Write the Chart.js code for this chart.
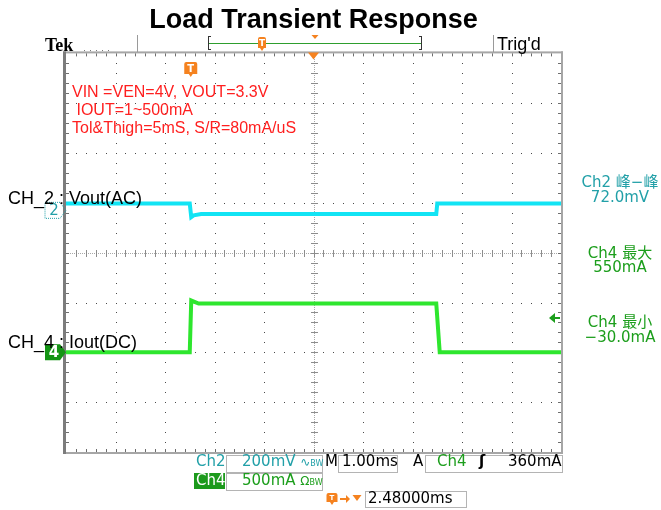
<!DOCTYPE html>
<html>
<head>
<meta charset="utf-8">
<script src="https://cdn.jsdelivr.net/npm/chart.js@4.4.0/dist/chart.umd.min.js"></script>
<style>
    body { margin: 0; background: #fff; }
    #scope { position: relative; width: 661px; height: 510px; overflow: hidden; }
    #scope canvas { position: absolute; left: 0; top: 0; }
    .lbl { position: absolute; white-space: pre; line-height: 1; }
    .sans { font-family: 'Liberation Sans', Arial, sans-serif; }
    .tek { font-family: 'DejaVu Sans', 'Noto Sans CJK SC', sans-serif; font-size: 15px; }
    .red { color: #ff1f1f; font-size: 16px; }
    .teal { color: #22a0a8; }
    .green { color: #1c9e1c; }
    .side { width: 90px; text-align: center; left: 575px; }
    .box { position: absolute; box-sizing: border-box; border: 1px solid #b4b4b4; }
    .bw { font-size: 8px; }
</style>
</head>
<body>
<div id="scope">
    <canvas id="scope-chart" width="661" height="510"></canvas>

    <div class="lbl" style="left:45px; top:35px; font: bold 18px 'Liberation Serif', serif;">Tek</div>
    <div class="lbl sans" style="left:497px; top:35px; font-size:18px;">Trig'd</div>

    <div class="lbl sans red" style="left:72px; top:84px;">VIN =VEN=4V, VOUT=3.3V</div>
    <div class="lbl sans red" style="left:72px; top:102px;"> IOUT=1~500mA</div>
    <div class="lbl sans red" style="left:72px; top:120px;">Tol&amp;Thigh=5mS, S/R=80mA/uS</div>

    <div class="lbl sans" style="left:8px; top:189px; font-size:18px;">CH_2 : Vout(AC)</div>
    <div class="lbl sans" style="left:8px; top:333px; font-size:18px;">CH_4 : Iout(DC)</div>

    <div class="lbl tek teal side" style="top:175px;">Ch2 峰−峰</div>
    <div class="lbl tek teal side" style="top:190px;">72.0mV</div>
    <div class="lbl tek green side" style="top:246px;">Ch4 最大</div>
    <div class="lbl tek green side" style="top:260px;">550mA</div>
    <div class="lbl tek green side" style="top:315px;">Ch4 最小</div>
    <div class="lbl tek green side" style="top:330px;">−30.0mA</div>

    <div class="box" style="left:226px; top:455px; width:97px; height:18px;"></div>
    <div class="box" style="left:338px; top:455px; width:60px; height:18px;"></div>
    <div class="box" style="left:425px; top:455px; width:138px; height:18px;"></div>
    <div class="box" style="left:226px; top:473px; width:97px; height:18px;"></div>
    <div class="box" style="left:194px; top:473px; width:31px; height:16px; background:#1c9a1c; border-color:#1c9a1c;"></div>
    <div class="box" style="left:365px; top:491px; width:102px; height:17px;"></div>

    <div class="lbl tek teal" style="left:196px; top:454px;">Ch2</div>
    <div class="lbl tek teal" style="left:242px; top:454px;">200mV <span style="font-size:12px">∿</span><span class="bw">B</span><span class="bw">W</span></div>
    <div class="lbl tek" style="left:325px; top:454px;">M</div>
    <div class="lbl tek" style="left:342px; top:454px;">1.00ms</div>
    <div class="lbl tek" style="left:413px; top:454px;">A</div>
    <div class="lbl tek green" style="left:437px; top:454px;">Ch4</div>
    <div class="lbl tek" style="left:479px; top:454px; font-weight:bold;">ʃ</div>
    <div class="lbl tek" style="left:508px; top:454px;">360mA</div>

    <div class="lbl tek" style="left:196px; top:473px; color:#fff;">Ch4</div>
    <div class="lbl tek green" style="left:242px; top:473px;">500mA <span style="font-size:12px">Ω</span><span class="bw">B</span><span class="bw">W</span></div>

    <div class="lbl tek" style="left:368px; top:491px;">2.48000ms</div>
</div>

<script>
// time relative to trigger point, ms
const ch2Time = [-2.48, 0.02, 0.05, 0.1, 0.25, 5.0, 5.02, 7.52];
const ch2Millivolts = [27, 27, -27, -20, -15, -15, 27, 27];

const ch4Time = [-2.48, 0.02, 0.05, 0.2, 5.0, 5.07, 7.52];
const ch4Milliamps = [0, 0, 520, 490, 490, 0, 0];

const triggerLevelMa = 360;

// scope settings
const timePerDiv = 1.0;
const triggerDelay = 2.48;
const ch2MvPerDiv = 200;
const ch2PositionDiv = 0.85;
const ch4MaPerDiv = 500;
const ch4PositionDiv = -2.0;

const orange = '#f5821f';
const tealColor = '#22a0a8';
const greenColor = '#1c9e1c';

function toPoints(times, values) {
    return times.map((t, i) => ({ x: t, y: values[i] }));
}

function drawTIcon(ctx, cx, top, w, h) {
    const r = 2;
    const left = cx - w / 2;
    const bodyH = h - 3;
    ctx.fillStyle = orange;
    ctx.beginPath();
    ctx.moveTo(left + r, top);
    ctx.lineTo(left + w - r, top);
    ctx.quadraticCurveTo(left + w, top, left + w, top + r);
    ctx.lineTo(left + w, top + bodyH);
    ctx.lineTo(cx + 2, top + bodyH);
    ctx.lineTo(cx, top + h);
    ctx.lineTo(cx - 2, top + bodyH);
    ctx.lineTo(left, top + bodyH);
    ctx.lineTo(left, top + r);
    ctx.quadraticCurveTo(left, top, left + r, top);
    ctx.fill();
    ctx.fillStyle = '#fff';
    ctx.font = 'bold ' + (bodyH - 2) + 'px "DejaVu Sans"';
    ctx.textAlign = 'center';
    ctx.textBaseline = 'middle';
    ctx.fillText('T', cx, top + bodyH / 2 + 1);
}

function drawDownTriangle(ctx, cx, top, w, h) {
    ctx.fillStyle = orange;
    ctx.beginPath();
    ctx.moveTo(cx - w / 2, top);
    ctx.lineTo(cx + w / 2, top);
    ctx.lineTo(cx, top + h);
    ctx.fill();
}

function drawChannelMarker(ctx, tipX, y, label, color, filled) {
    ctx.save();
    ctx.beginPath();
    ctx.moveTo(tipX - 21, y - 8);
    ctx.lineTo(tipX - 6, y - 8);
    ctx.lineTo(tipX, y);
    ctx.lineTo(tipX - 6, y + 8);
    ctx.lineTo(tipX - 21, y + 8);
    ctx.closePath();
    if (filled) {
        ctx.fillStyle = color;
        ctx.fill();
    } else {
        ctx.setLineDash([1, 1]);
        ctx.strokeStyle = color;
        ctx.lineWidth = 1;
        ctx.stroke();
    }
    ctx.fillStyle = filled ? '#fff' : color;
    ctx.font = (filled ? 'bold ' : '') + '15px "DejaVu Sans"';
    ctx.textAlign = 'center';
    ctx.textBaseline = 'middle';
    ctx.fillText(label, tipX - 12, y + 1);
    ctx.restore();
}

const graticulePlugin = {
    id: 'graticule',
    beforeDatasetsDraw(chart) {
        const { ctx, chartArea: a } = chart;
        const dx = (a.right - a.left) / 10;
        const dy = (a.bottom - a.top) / 8;
        const cx = Math.round(a.left + 5 * dx);
        const cy = Math.round(a.top + 4 * dy);
        ctx.save();

        // dotted division lines
        ctx.fillStyle = '#4a4a4a';
        for (let i = 1; i < 10; i++) {
            if (i === 5) continue;
            const x = Math.round(a.left + i * dx);
            for (let k = 1; k < 40; k++) {
                ctx.fillRect(x, Math.round(a.top + (k * dy) / 5), 1, 1);
            }
        }
        for (let j = 1; j < 8; j++) {
            if (j === 4) continue;
            const y = Math.round(a.top + j * dy);
            for (let k = 1; k < 50; k++) {
                ctx.fillRect(Math.round(a.left + (k * dx) / 5), y, 1, 1);
            }
        }

        // centre cross with minor ticks
        ctx.fillStyle = '#a8a8a8';
        for (let x = a.left; x < a.right; x += 2) ctx.fillRect(Math.round(x), cy, 1, 1);
        for (let y = a.top; y < a.bottom; y += 2) ctx.fillRect(cx, Math.round(y), 1, 1);
        ctx.fillStyle = '#8c8c8c';
        for (let k = 1; k < 50; k++) {
            ctx.fillRect(Math.round(a.left + (k * dx) / 5), cy - 3, 1, 7);
        }
        for (let k = 1; k < 40; k++) {
            ctx.fillRect(cx - 3, Math.round(a.top + (k * dy) / 5), 7, 1);
        }

        // frame
        ctx.fillStyle = '#a6a6a6';
        ctx.fillRect(a.left - 3, a.top - 2, a.right - a.left + 5, 2);
        ctx.fillRect(a.left - 3, a.bottom, a.right - a.left + 5, 2);
        ctx.fillRect(a.right, a.top - 2, 2, a.bottom - a.top + 4);
        ctx.fillStyle = '#7c7c7c';
        ctx.fillRect(a.left - 3, a.top - 2, 3, a.bottom - a.top + 4);

        // ruler ticks along the frame
        ctx.fillStyle = '#6e6e6e';
        for (let k = 1; k < 50; k++) {
            const x = Math.round(a.left + (k * dx) / 5);
            ctx.fillRect(x, a.top, 1, 3);
            ctx.fillRect(x, a.bottom - 3, 1, 3);
        }
        for (let k = 1; k < 40; k++) {
            const y = Math.round(a.top + (k * dy) / 5);
            ctx.fillRect(a.left, y, 3, 1);
            ctx.fillRect(a.right - 3, y, 3, 1);
        }
        ctx.restore();
    },
    afterDraw(chart) {
        const { ctx, chartArea: a, scales } = chart;
        const dx = (a.right - a.left) / 10;
        ctx.save();

        // top status bar
        ctx.fillStyle = '#777';
        for (let i = 0; i < 5; i++) ctx.fillRect(84 + i * 6, 50, 1, 1);
        ctx.fillStyle = '#9a9a9a';
        ctx.fillRect(137, 35, 1, 17);
        ctx.fillRect(493, 35, 1, 17);
        ctx.fillStyle = '#333';
        ctx.fillRect(208, 36, 1, 14);
        ctx.fillRect(208, 36, 3, 1);
        ctx.fillRect(208, 49, 3, 1);
        ctx.fillRect(421, 36, 1, 14);
        ctx.fillRect(419, 36, 3, 1);
        ctx.fillRect(419, 49, 3, 1);
        ctx.fillStyle = '#2e9e2e';
        ctx.fillRect(209, 43, 212, 1);
        drawTIcon(ctx, 262, 37, 8, 14);
        drawDownTriangle(ctx, 315, 35, 7, 4);

        // trigger position and screen centre
        const trigX = scales.x.getPixelForValue(0);
        drawTIcon(ctx, trigX + 2, 62, 13, 15);
        drawDownTriangle(ctx, a.left + 5 * dx, a.top - 1, 11, 7);

        // trigger level arrow on the right edge
        const levelY = Math.round(scales.y4.getPixelForValue(triggerLevelMa)) + 2;
        ctx.fillStyle = greenColor;
        ctx.beginPath();
        ctx.moveTo(a.right - 12, levelY);
        ctx.lineTo(a.right - 6, levelY - 5);
        ctx.lineTo(a.right - 6, levelY + 5);
        ctx.fill();
        ctx.fillRect(a.right - 7, levelY - 1, 6, 2);

        // channel ground markers
        drawChannelMarker(ctx, a.left, scales.y2.getPixelForValue(0), '2', tealColor, false);
        drawChannelMarker(ctx, a.left, scales.y4.getPixelForValue(0), '4', '#149414', true);

        // bottom trigger position readout icons
        drawTIcon(ctx, 332, 493, 11, 12);
        ctx.fillStyle = orange;
        ctx.fillRect(340, 498, 7, 2);
        ctx.beginPath();
        ctx.moveTo(346, 495);
        ctx.lineTo(350, 499);
        ctx.lineTo(346, 503);
        ctx.fill();
        drawDownTriangle(ctx, 357, 495, 9, 6);
        ctx.restore();
    },
};

const scopeChart = new Chart(document.getElementById('scope-chart'), {
    type: 'line',
    data: {
        datasets: [
            {
                label: 'Ch2 Vout(AC)',
                data: toPoints(ch2Time, ch2Millivolts),
                yAxisID: 'y2',
                borderColor: '#12e4f4',
                borderWidth: 4,
                pointRadius: 0,
                tension: 0,
            },
            {
                label: 'Ch4 Iout(DC)',
                data: toPoints(ch4Time, ch4Milliamps),
                yAxisID: 'y4',
                borderColor: '#2ee62e',
                borderWidth: 4,
                pointRadius: 0,
                tension: 0,
            },
        ],
    },
    options: {
        responsive: false,
        animation: false,
        devicePixelRatio: 1,
        layout: {
            padding: { left: 66, right: 100, top: 0, bottom: 58 },
        },
        plugins: {
            legend: { display: false },
            tooltip: { enabled: false },
            title: {
                display: true,
                text: 'Load Transient Response',
                color: '#000',
                font: { family: 'Liberation Sans', size: 27, weight: 'bold' },
                padding: { top: 4, bottom: 17 },
            },
        },
        scales: {
            x: {
                type: 'linear',
                display: false,
                min: -triggerDelay,
                max: -triggerDelay + 10 * timePerDiv,
            },
            y2: {
                display: false,
                min: (-4 - ch2PositionDiv) * ch2MvPerDiv,
                max: (4 - ch2PositionDiv) * ch2MvPerDiv,
            },
            y4: {
                display: false,
                min: (-4 - ch4PositionDiv) * ch4MaPerDiv,
                max: (4 - ch4PositionDiv) * ch4MaPerDiv,
            },
        },
    },
    plugins: [graticulePlugin],
});
</script>
</body>
</html>
